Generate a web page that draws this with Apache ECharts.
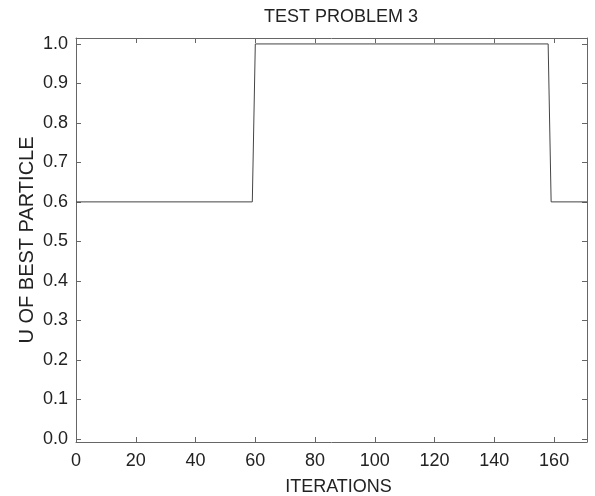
<!DOCTYPE html>
<html><head><meta charset="utf-8">
<script src="https://cdn.jsdelivr.net/npm/echarts@6/dist/echarts.min.js"></script>
<style>html,body{margin:0;padding:0;background:#fff}#c{width:595px;height:496px}</style>
</head><body><div id="c"></div>
<script>
const iterations = [0, 59, 60, 158, 159, 171];
const uValues = [0.6, 0.6, 1.0, 1.0, 0.6, 0.6];
const xTicks = [0, 20, 40, 60, 80, 100, 120, 140, 160];
const yTicks = [0.0, 0.1, 0.2, 0.3, 0.4, 0.5, 0.6, 0.7, 0.8, 0.9, 1.0];

const chart = echarts.init(document.getElementById('c'), null, {renderer: 'canvas'});
const font = 'Liberation Sans, Arial, Helvetica, sans-serif';
const axisCol = '#666';
const data = iterations.map((x, i) => [x, uValues[i]]);

function xAxis(show, pos) {
  return {
    type: 'value', min: 0, max: 171, interval: 20, position: pos,
    name: show ? 'ITERATIONS' : '', nameLocation: 'middle', nameGap: 36,
    nameTextStyle: {fontFamily: font, fontSize: 18, color: '#222', padding: [0, 0, 0, 14]},
    axisLine: {show: true, onZero: false, lineStyle: {color: axisCol, width: 1}},
    axisTick: {show: true, inside: true, length: 5, lineStyle: {color: axisCol}},
    axisLabel: {show: show, fontFamily: font, fontSize: 18, color: '#222', margin: 10,
      formatter: v => xTicks.includes(v) ? String(v) : ''},
    splitLine: {show: false}
  };
}
function yAxis(show, pos) {
  return {
    type: 'value', min: -0.008, max: 1.015, position: pos,
    interval: 0.1,
    name: show ? 'U OF BEST PARTICLE' : '', nameLocation: 'middle', nameGap: 39,
    nameMoveOverlap: false,
    nameTextStyle: {fontFamily: font, fontSize: 20, color: '#222'},
    axisLine: {show: true, onZero: false, lineStyle: {color: axisCol, width: 1}},
    axisTick: {show: true, inside: true, length: 5, lineStyle: {color: axisCol},
      customValues: yTicks},
    axisLabel: {show: show, fontFamily: font, fontSize: 18, color: '#222', margin: 8,
      customValues: yTicks, formatter: v => v.toFixed(1)},
    splitLine: {show: false}
  };
}

chart.setOption({
  animation: false,
  title: {text: 'TEST PROBLEM 3', left: 336, top: 3, textAlign: 'center',
    textStyle: {fontFamily: font, fontSize: 18, fontWeight: 'normal', color: '#222'}},
  grid: {left: 76, right: 8, top: 38, bottom: 54, containLabel: false, outerBoundsMode: 'none'},
  xAxis: [xAxis(true, 'bottom'), xAxis(false, 'top')],
  yAxis: [yAxis(true, 'left'), yAxis(false, 'right')],
  series: [{
    type: 'line', data: data, xAxisIndex: 0, yAxisIndex: 0,
    symbol: 'none', lineStyle: {color: '#444', width: 1}
  }]
});
</script></body></html>
